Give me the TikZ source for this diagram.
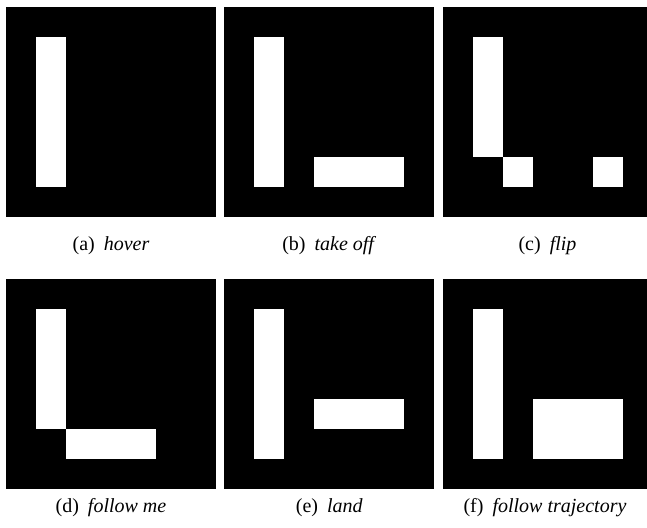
\documentclass[tikz,border=0pt]{standalone}
\usepackage{fontspec}
\setmainfont{Liberation Serif}
\usetikzlibrary{positioning}

\tikzset{
  frame/.style={fill=black},
  blob/.style={fill=white},
  caption/.style={font=\fontsize{10}{12}\selectfont, anchor=base},
}

\begin{document}
\begin{tikzpicture}[x=0.5pt, y=-0.5pt]

% Page
\useasboundingbox (0,0) rectangle (647,527);
\clip (0,0) rectangle (647,527);

% (a) hover
\begin{scope}[shift={(6,7)}]
  \fill[frame] (0,0) rectangle (210,210);
  \fill[blob] (30,30) rectangle (60,180);
\end{scope}
\node[caption] (capa) at (111,250) {(a)\hspace{0.45em}\textit{hover}};

% (b) take off
\begin{scope}[shift={(224.3,7)}]
  \fill[frame] (0,0) rectangle (210,210);
  \fill[blob] (30,30) rectangle (60,180);
  \fill[blob] (90,150) rectangle (180,180);
\end{scope}
\node[caption] (capb) at (329.3,250) {(b)\hspace{0.45em}\textit{take off}};

% (c) flip
\begin{scope}[shift={(443.3,7)}]
  \fill[frame] (0,0) rectangle (210,210);
  \fill[blob] (30,30) rectangle (60,150);
  \fill[blob] (60,150) rectangle (90,180);
  \fill[blob] (150,150) rectangle (180,180);
\end{scope}
\node[caption] (capc) at (547.5,250) {(c)\hspace{0.45em}\textit{flip}};

% (d) follow me
\begin{scope}[shift={(6,279.3)}]
  \fill[frame] (0,0) rectangle (210,210);
  \fill[blob] (30,30) rectangle (60,150);
  \fill[blob] (60,150) rectangle (150,180);
\end{scope}
\node[caption] (capd) at (111,512) {(d)\hspace{0.45em}\textit{follow me}};

% (e) land
\begin{scope}[shift={(224.3,279.3)}]
  \fill[frame] (0,0) rectangle (210,210);
  \fill[blob] (30,30) rectangle (60,180);
  \fill[blob] (90,120) rectangle (180,150);
\end{scope}
\node[caption] (cape) at (329.3,512) {(e)\hspace{0.45em}\textit{land}};

% (f) follow trajectory
\begin{scope}[shift={(443.3,279.3)}]
  \fill[frame] (0,0) rectangle (210,210);
  \fill[blob] (30,30) rectangle (60,180);
  \fill[blob] (90,120) rectangle (180,180);
\end{scope}
\node[caption] (capf) at (545,512) {(f)\hspace{0.45em}\textit{follow trajectory}};

\end{tikzpicture}
\end{document}
